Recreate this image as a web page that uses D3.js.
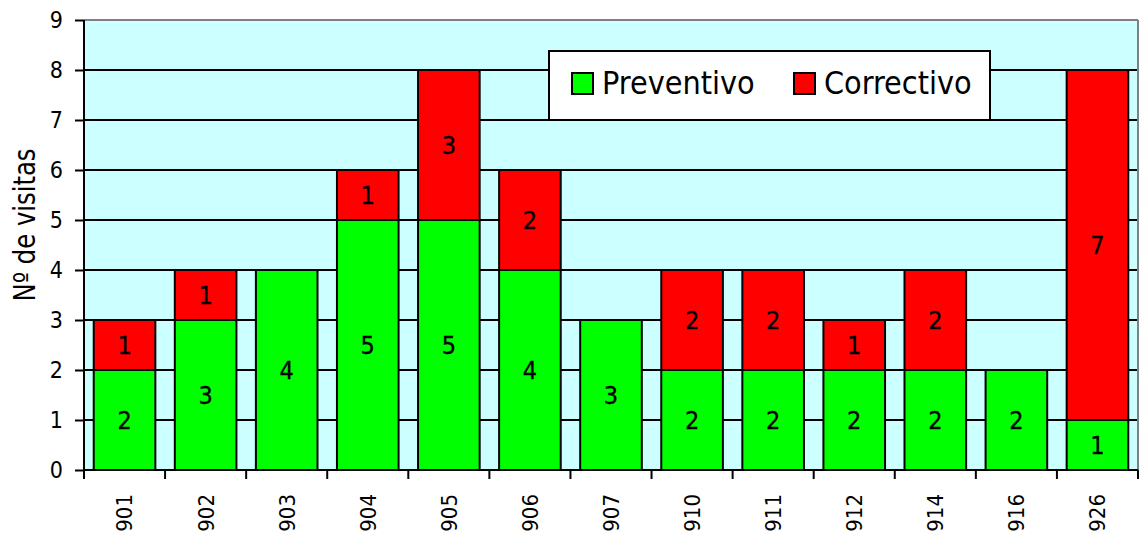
<!DOCTYPE html>
<html><head><meta charset="utf-8">
<script src="https://cdn.jsdelivr.net/npm/d3@7"></script>
<style>body{margin:0;background:#fff}svg{display:block}text{font-family:"DejaVu Sans Condensed","DejaVu Sans",sans-serif;font-stretch:condensed;fill:#000}</style>
</head><body><svg id="c" width="1139" height="535"></svg>
<script>
const categories = ["901","902","903","904","905","906","907","910","911","912","914","916","926"];
const preventivo = [2,3,4,5,5,4,3,2,2,2,2,2,1];
const correctivo = [1,1,0,1,3,2,0,2,2,1,2,0,7];
const yTicks = [0,1,2,3,4,5,6,7,8,9];
const seriesNames = ["Preventivo","Correctivo"];
const colors = ["#00ff00","#ff0000"];

const svg = d3.select("#c");
const L=84, R=1138, T=20, B=470;
const x = d3.scaleBand().domain(categories).range([L,R]).paddingInner(0.24).paddingOuter(0.12);
const y = d3.scaleLinear().domain([0,9]).range([B,T]);

svg.append("rect").attr("x",L).attr("y",T).attr("width",R-L).attr("height",B-T).attr("fill","#ccffff");
svg.append("g").selectAll("line").data(yTicks.filter(v=>v>0&&v<9)).join("line")
  .attr("x1",L).attr("x2",R).attr("y1",d=>y(d)).attr("y2",d=>y(d)).attr("stroke","#000").attr("stroke-width",2);
svg.append("line").attr("x1",L).attr("x2",R).attr("y1",T).attr("y2",T).attr("stroke","#808080").attr("stroke-width",2);
svg.append("line").attr("x1",R).attr("x2",R).attr("y1",T).attr("y2",B).attr("stroke","#808080").attr("stroke-width",2);

const data = categories.map((c,i)=>({c, p:preventivo[i], k:correctivo[i]}));
const g = svg.append("g");
function lab(xc, yc, v){
  g.append("text").attr("x",xc).attr("y",yc).attr("text-anchor","middle").attr("dy","0.36em")
    .attr("font-size",25).attr("stroke","#000").attr("stroke-width",0.3).text(v);
}
data.forEach(d=>{
  const bx = x(d.c), bw = x.bandwidth();
  g.append("rect").attr("x",bx).attr("y",y(d.p)).attr("width",bw).attr("height",y(0)-y(d.p))
    .attr("fill",colors[0]).attr("stroke","#000").attr("stroke-width",2);
  if(d.k>0){
    g.append("rect").attr("x",bx).attr("y",y(d.p+d.k)).attr("width",bw).attr("height",y(d.p)-y(d.p+d.k))
      .attr("fill",colors[1]).attr("stroke","#000").attr("stroke-width",2);
  }
  lab(bx+bw/2,(y(0)+y(d.p))/2,d.p);
  if(d.k>0) lab(bx+bw/2,(y(d.p)+y(d.p+d.k))/2,d.k);
});

const ya = svg.append("g").attr("transform",`translate(${L},0)`).call(d3.axisLeft(y).tickValues(yTicks).tickSize(9).tickPadding(12).tickFormat(d3.format("d")));
ya.select(".domain").attr("stroke","#000").attr("stroke-width",2).attr("d",`M0,${T}V${B}`);
ya.selectAll(".tick line").attr("stroke","#000").attr("stroke-width",2);
ya.selectAll(".tick text").attr("font-size",23).attr("font-family",null).attr("fill","#000");

const xa = svg.append("g").attr("transform",`translate(0,${B})`);
xa.append("line").attr("x1",L).attr("x2",R).attr("stroke","#000").attr("stroke-width",2);
const bounds = d3.range(categories.length+1).map(i=>L+i*(R-L)/categories.length);
xa.selectAll("line.t").data(bounds).join("line").attr("class","t").attr("x1",d=>d).attr("x2",d=>d).attr("y1",0).attr("y2",9).attr("stroke","#000").attr("stroke-width",2);
xa.selectAll("text").data(categories).join("text")
  .attr("transform",d=>`translate(${x(d)+x.bandwidth()/2},24) rotate(-90)`)
  .attr("text-anchor","end").attr("dy","0.36em").attr("font-size",22).text(d=>d);

svg.append("text").attr("transform",`translate(35,225) rotate(-90) scale(0.9,1)`).attr("text-anchor","middle")
  .attr("font-size",30).text("Nº de visitas");

const lg = svg.append("g");
lg.append("rect").attr("x",549).attr("y",51).attr("width",441).attr("height",69).attr("fill","#fff").attr("stroke","#000").attr("stroke-width",2);
const lx=[572,794];
seriesNames.forEach((n,i)=>{
  lg.append("rect").attr("x",lx[i]).attr("y",73).attr("width",21).attr("height",21).attr("fill",colors[i]).attr("stroke","#000").attr("stroke-width",2);
  lg.append("text").attr("x",lx[i]+30).attr("y",94).attr("font-size",32).text(n);
});
</script></body></html>
